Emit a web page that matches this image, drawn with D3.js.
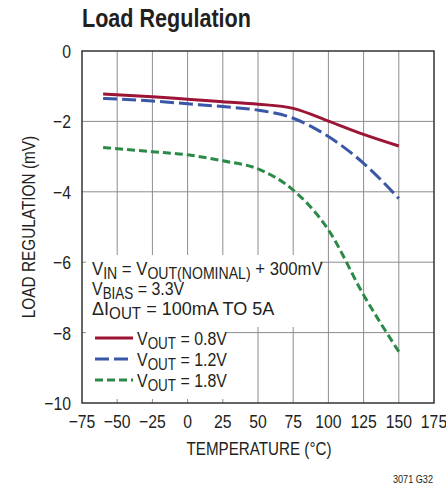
<!DOCTYPE html>
<html>
<head>
<meta charset="UTF-8">
<title>Load Regulation</title>
<script src="https://cdnjs.cloudflare.com/ajax/libs/d3/7.8.5/d3.min.js"></script>
<style>
  body { margin: 0; background: #fff; }
  svg text { font-family: "Liberation Sans", Arial, sans-serif; fill: #231f20; }
</style>
</head>
<body>
<script>
  // temperature (°C) and load regulation (mV)
  var temps = [-60, -25, 0, 25, 50, 75, 100, 125, 150];
  var vout08 = [-1.22, -1.30, -1.37, -1.44, -1.51, -1.63, -1.99, -2.37, -2.70];
  var vout12 = [-1.35, -1.42, -1.50, -1.58, -1.68, -1.91, -2.43, -3.19, -4.19];
  var vout18 = [-2.74, -2.86, -2.95, -3.12, -3.35, -3.95, -5.08, -6.93, -8.54];

  var xTicks = [-75, -50, -25, 0, 25, 50, 75, 100, 125, 150, 175];
  var yTicks = [0, -2, -4, -6, -8, -10];

  var series = [
    { name: "0.8V", values: vout08, color: "#9c1536", dash: null },
    { name: "1.2V", values: vout12, color: "#3a57a7", dash: "14,5" },
    { name: "1.8V", values: vout18, color: "#2b8a48", dash: "8,4" }
  ];

  var W = 446, H = 486;
  var NARROW = 0.83; // squeeze Liberation Sans into a condensed look
  var svg = d3.select("body").append("svg").attr("width", W).attr("height", H);

  var x = d3.scaleLinear().domain([-75, 175]).range([82, 434]);
  var y = d3.scaleLinear().domain([-10, 0]).range([403, 51]);

  var minus = function(v) { return String(v).replace("-", "\u2212"); };

  function label(px, py, str, size, anchor, extra, sx) {
    var g = svg.append("g")
      .attr("transform", "translate(" + px + "," + py + ")" + (extra || "") + " scale(" + (sx || NARROW) + ",1)");
    return g.append("text").attr("font-size", size).attr("text-anchor", anchor || "start").text(str);
  }

  // grid
  svg.append("g").selectAll("line").data(xTicks.slice(1, -1)).join("line")
    .attr("x1", d => x(d)).attr("x2", d => x(d))
    .attr("y1", y(0)).attr("y2", y(-10))
    .attr("stroke", "#8c8c8c").attr("stroke-width", 1);
  svg.append("g").selectAll("line").data(yTicks.slice(1, -1)).join("line")
    .attr("x1", x(-75)).attr("x2", x(175))
    .attr("y1", d => y(d)).attr("y2", d => y(d))
    .attr("stroke", "#8c8c8c").attr("stroke-width", 1);

  // white boxes behind the notes
  svg.append("rect").attr("x", 86).attr("y", 255).attr("width", 234).attr("height", 72).attr("fill", "#fff");
  svg.append("rect").attr("x", 86).attr("y", 327).attr("width", 141).attr("height", 72).attr("fill", "#fff");

  // curves
  var line = d3.line()
    .x((d, i) => x(temps[i]))
    .y(d => y(d))
    .curve(d3.curveMonotoneX);

  svg.append("g").selectAll("path").data(series).join("path")
    .attr("d", d => line(d.values))
    .attr("fill", "none")
    .attr("stroke", d => d.color)
    .attr("stroke-width", 3)
    .attr("stroke-dasharray", d => d.dash);

  // frame
  svg.append("rect")
    .attr("x", x(-75)).attr("y", y(0))
    .attr("width", x(175) - x(-75)).attr("height", y(-10) - y(0))
    .attr("fill", "none").attr("stroke", "#333").attr("stroke-width", 1.5);

  // tick labels
  xTicks.forEach(function(t) { label(x(t), 428, minus(t), 19, "middle"); });
  yTicks.forEach(function(t) { label(71, y(t) + 7, minus(t), 19, "end"); });

  // titles
  label(82, 27, "Load Regulation", 26).attr("font-weight", "bold");
  label(259, 455, "TEMPERATURE (°C)", 19, "middle", "", 0.8);
  label(35, 227, "LOAD REGULATION (mV)", 19, "middle", " rotate(-90)", 0.81);
  label(433, 483, "3071 G32", 11, "end");

  // notes with subscripts (subscripts are nearly full size, dropped a little)
  function rich(px, py, parts, sx) {
    var t = label(px, py, null, 19, "start", "", sx);
    var down = false;
    parts.forEach(function(p) {
      var sub = p[1];
      var dy = sub && !down ? 4 : (!sub && down ? -4 : 0);
      t.append("tspan").attr("dy", dy).attr("font-size", sub ? 16 : 19).text(p[0]);
      down = sub;
    });
  }

  rich(92, 275, [["V", 0], ["IN", 1], [" = V", 0], ["OUT(NOMINAL)", 1], [" + 300mV", 0]], 0.88);
  rich(92, 295, [["V", 0], ["BIAS", 1], [" = 3.3V", 0]], 0.84);
  rich(92, 315, [["\u0394I", 0], ["OUT", 1], [" = 100mA TO 5A", 0]], 0.95);

  // legend
  var legY = [338, 359, 380];
  series.forEach(function(s, i) {
    svg.append("line")
      .attr("x1", 95).attr("x2", 133).attr("y1", legY[i]).attr("y2", legY[i])
      .attr("stroke", s.color).attr("stroke-width", 3)
      .attr("stroke-dasharray", s.dash);
    rich(137, legY[i] + 7, [["V", 0], ["OUT", 1], [" = " + s.name, 0]], 0.84);
  });
</script>
</body>
</html>
